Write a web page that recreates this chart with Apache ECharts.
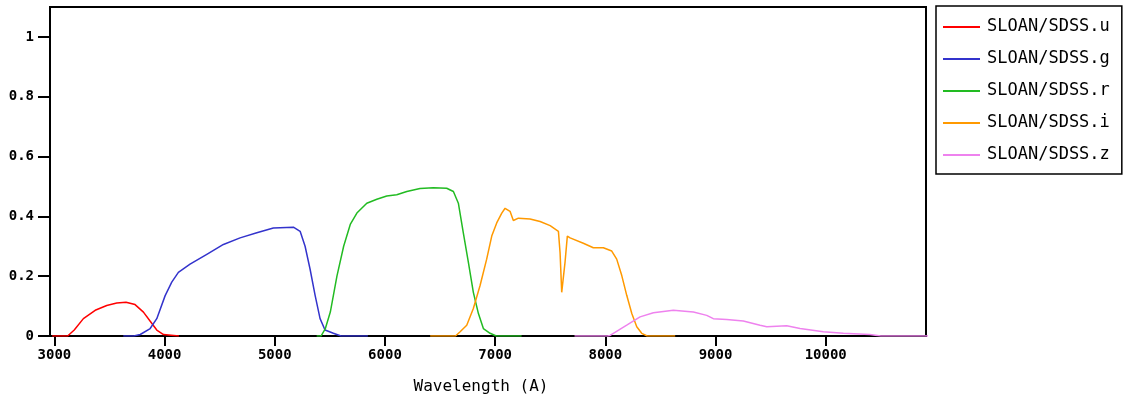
<!DOCTYPE html>
<html lang="en">
<head>
    <meta charset="UTF-8">
    <title>SLOAN/SDSS filter curves</title>
    <script src="https://cdn.jsdelivr.net/npm/echarts@6/dist/echarts.min.js"></script>
</head>
<body style="margin:0;background:#fff;">
<div id="main" style="width: 1128px;height:400px;"></div>
<script>
    // filter names
    var filterNames = ['SLOAN/SDSS.u', 'SLOAN/SDSS.g', 'SLOAN/SDSS.r', 'SLOAN/SDSS.i', 'SLOAN/SDSS.z'];
    var filterColors = ['#ff0000', '#3333cc', '#22bb22', '#ff9900', '#ee82ee'];

    // wavelengths (A) and transmission
    var uWave = [2980, 3120, 3180, 3263, 3370, 3475, 3566, 3650, 3732, 3808, 3868, 3929, 3990, 4130];
    var uTrans = [0, 0, 0.02, 0.058, 0.086, 0.102, 0.110, 0.113, 0.105, 0.080, 0.050, 0.020, 0.005, 0];

    var gWave = [3625, 3720, 3779, 3869, 3929, 4005, 4065, 4125, 4231, 4383, 4534, 4685, 4837, 4987, 5169, 5230, 5275, 5320, 5366, 5411, 5456, 5532, 5600, 5845];
    var gTrans = [0, 0, 0.005, 0.025, 0.058, 0.135, 0.18, 0.213, 0.24, 0.273, 0.306, 0.328, 0.345, 0.361, 0.364, 0.35, 0.30, 0.224, 0.136, 0.058, 0.02, 0.009, 0, 0];

    var rWave = [5380, 5420, 5459, 5504, 5564, 5625, 5685, 5745, 5835, 5926, 6016, 6107, 6198, 6318, 6439, 6560, 6621, 6666, 6711, 6757, 6802, 6848, 6893, 6954, 7010, 7240];
    var rTrans = [0, 0, 0.025, 0.08, 0.2, 0.30, 0.373, 0.411, 0.444, 0.457, 0.468, 0.472, 0.483, 0.493, 0.496, 0.494, 0.483, 0.444, 0.345, 0.246, 0.146, 0.075, 0.025, 0.009, 0, 0];

    var iWave = [6410, 6640, 6682, 6742, 6802, 6863, 6923, 6969, 7014, 7060, 7090, 7135, 7165, 7211, 7317, 7408, 7499, 7574, 7589, 7604, 7634, 7655, 7680, 7800, 7891, 7982, 8058, 8103, 8149, 8194, 8240, 8285, 8330, 8380, 8634];
    var iTrans = [0, 0, 0.014, 0.036, 0.092, 0.169, 0.257, 0.334, 0.378, 0.411, 0.427, 0.417, 0.386, 0.394, 0.391, 0.383, 0.369, 0.35, 0.279, 0.146, 0.246, 0.334, 0.328, 0.31, 0.295, 0.295, 0.284, 0.257, 0.202, 0.136, 0.075, 0.031, 0.009, 0, 0];

    var zWave = [7720, 8020, 8043, 8194, 8315, 8436, 8617, 8799, 8920, 8980, 9101, 9252, 9404, 9465, 9646, 9767, 9978, 10160, 10400, 10500, 11000];
    var zTrans = [0, 0, 0.002, 0.036, 0.064, 0.078, 0.086, 0.080, 0.069, 0.058, 0.055, 0.05, 0.036, 0.031, 0.034, 0.025, 0.014, 0.009, 0.005, 0, 0];

    var xTicks = [3000, 4000, 5000, 6000, 7000, 8000, 9000, 10000];
    var yTicks = [0, 0.2, 0.4, 0.6, 0.8, 1];

    function pairs(w, t) {
        return w.map(function (x, i) { return [x, t[i]]; });
    }
    var curves = [pairs(uWave, uTrans), pairs(gWave, gTrans), pairs(rWave, rTrans), pairs(iWave, iTrans), pairs(zWave, zTrans)];

    var mono = 'DejaVu Sans Mono';
    var myChart = echarts.init(document.getElementById('main'));
    myChart.setOption({
        animation: false,
        backgroundColor: '#fff',
        grid: {
            left: 50, top: 7, right: 202, bottom: 59,
            show: true, borderColor: '#000', borderWidth: 2
        },
        legend: {
            orient: 'vertical',
            left: 936, top: 6,
            padding: [12, 12, 10, 7],
            borderColor: '#000', borderWidth: 1.5,
            backgroundColor: '#fff',
            icon: 'rect',
            itemWidth: 37, itemHeight: 2,
            itemGap: 14,
            textStyle: { fontFamily: mono, fontSize: 17, color: '#000', lineHeight: 18, padding: [0, 0, 0, 2] },
            data: filterNames
        },
        xAxis: {
            type: 'value',
            min: 2960, max: 10910,
            name: 'Wavelength (A)',
            nameLocation: 'middle',
            nameGap: 43,
            nameTextStyle: { fontFamily: mono, fontSize: 16, color: '#000', padding: [0, 14, 0, 0] },
            axisLine: { lineStyle: { color: '#000', width: 2 } },
            axisTick: { show: true, inside: false, length: 10, lineStyle: { color: '#000', width: 2 }, customValues: xTicks },
            axisLabel: {
                fontFamily: mono, fontSize: 14, fontWeight: 'bold', color: '#000', margin: 12,
                customValues: xTicks,
                formatter: function (v) { return String(v); }
            },
            splitLine: { show: false }
        },
        yAxis: {
            type: 'value',
            min: 0, max: 1.1,
            axisLine: { show: true, lineStyle: { color: '#000', width: 2 } },
            axisTick: { show: true, inside: false, length: 12, lineStyle: { color: '#000', width: 2 }, customValues: yTicks },
            axisLabel: { fontFamily: mono, fontSize: 14, fontWeight: 'bold', color: '#000', margin: 16, customValues: yTicks },
            splitLine: { show: false }
        },
        series: filterNames.map(function (name, i) {
            return {
                name: name,
                type: 'line',
                data: curves[i],
                symbol: 'none',
                color: filterColors[i],
                lineStyle: { width: 1.5, color: filterColors[i] }
            };
        })
    });
</script>
</body>
</html>
